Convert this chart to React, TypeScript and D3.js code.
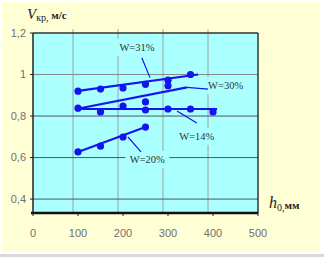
import React from 'react'
import * as d3 from 'd3'

// h0, mm
const xTicks = [0, 100, 200, 300, 400, 500]
const yTicks = [0.4, 0.6, 0.8, 1, 1.2]
const yTickLabels = ['0,4', '0,6', '0,8', '1', '1,2']

// measured points per moisture W
const w31 = [[100, 0.92], [150, 0.93], [200, 0.935], [250, 0.953], [300, 0.973], [350, 1.0]]
const w30 = [[100, 0.838], [200, 0.848], [250, 0.868], [300, 0.946]]
const w14 = [[150, 0.82], [250, 0.829], [300, 0.834], [350, 0.834], [400, 0.82]]
const w20 = [[100, 0.627], [150, 0.655], [200, 0.699], [250, 0.747]]

// trend lines (start, end)
const w31Trend = [[96, 0.92], [367, 1.0]]
const w30Trend = [[96, 0.834], [342, 0.938]]
const w14Trend = [[96, 0.834], [409, 0.834]]
const w20Trend = [[100, 0.627], [250, 0.747]]

const labels = [
  { text: 'W=31%', x: 231, y: 1.133, from: [242, 1.08], to: [260, 0.985] },
  { text: 'W=30%', x: 428, y: 0.949, from: [342, 0.938], to: [389, 0.93] },
  { text: 'W=14%', x: 364, y: 0.704, from: [320, 0.824], to: [364, 0.766] },
  { text: 'W=20%', x: 254, y: 0.593, from: [211, 0.699], to: [240, 0.627] }
]

const W = 324
const H = 257
const blue = '#1414f0'

export default function App() {
  const x = d3.scaleLinear().domain([0, 500]).range([33, 258])
  const y = d3.scaleLinear().domain([0.333, 1.2]).range([213, 33])
  const line = d3.line<number[]>().x(d => x(d[0])).y(d => y(d[1]))
  const series = [w31, w30, w14, w20]
  const trends = [w31Trend, w30Trend, w14Trend, w20Trend]

  return (
    <svg width={W} height={H} style={{ position: 'absolute', left: 0, top: 0 }}>
      <rect x={0} y={0} width={W} height={H} fill="#fff" />
      <rect x={0} y={254} width={W} height={3} fill="#d8d8d8" />
      <rect x={2} y={2} width={318} height={250} fill="#ffffd6" />
      <rect x={x(0)} y={y(1.2)} width={x(500) - x(0)} height={y(0.333) - y(1.2)} fill="#aaffff" />

      {/* vertical grid (drawn slightly left of ticks, as in the source) */}
      {xTicks.slice(1, 5).map(t => (
        <line key={'vx' + t} x1={x(t) - 5} x2={x(t) - 5} y1={y(1.2) - 4} y2={y(0.333)} stroke="#a0a0a0" strokeWidth={1} />
      ))}
      {/* horizontal grid */}
      {yTicks.slice(0, 4).map(t => (
        <line key={'hy' + t} x1={x(0)} x2={x(500)} y1={y(t)} y2={y(t)} stroke={t === 1 ? '#8a8a8a' : '#555'} strokeWidth={1} />
      ))}
      <line x1={x(0)} x2={x(500)} y1={y(1.2)} y2={y(1.2)} stroke="#333" strokeWidth={1.5} />
      <line x1={x(500)} x2={x(500)} y1={y(1.2)} y2={y(0.333)} stroke="#333" strokeWidth={1.5} />
      <line x1={x(0)} x2={x(0)} y1={y(1.2)} y2={y(0.333)} stroke="#222" strokeWidth={1.5} />
      <line x1={x(0) - 2} x2={x(500)} y1={y(0.333)} y2={y(0.333)} stroke="#111" strokeWidth={2.5} />

      {yTicks.map(t => (
        <line key={'yt' + t} x1={x(0) - 3} x2={x(0)} y1={y(t)} y2={y(t)} stroke="#222" />
      ))}
      {xTicks.map(t => (
        <line key={'xt' + t} x1={x(t)} x2={x(t)} y1={y(0.333)} y2={y(0.333) + 3} stroke="#222" />
      ))}

      <g fontFamily="Liberation Sans, Arial, sans-serif" fontSize={11} fill="#707070">
        {yTicks.map((t, i) => (
          <text key={'yl' + t} x={26} y={y(t)} dy="0.35em" textAnchor="end">{yTickLabels[i]}</text>
        ))}
        {xTicks.map(t => (
          <text key={'xl' + t} x={x(t)} y={233} dy="0.35em" textAnchor="middle">{t}</text>
        ))}
      </g>

      {/* label backgrounds hide grid lines */}
      {labels.map(l => (
        <rect key={'bg' + l.text} x={x(l.x) - 22} y={y(l.y) - 8} width={44} height={17} fill="#aaffff" />
      ))}

      {trends.map((d, i) => (
        <path key={'tr' + i} d={line(d) || ''} fill="none" stroke={blue} strokeWidth={2.2} />
      ))}
      {labels.map(l => (
        <line key={'ld' + l.text} x1={x(l.from[0])} y1={y(l.from[1])} x2={x(l.to[0])} y2={y(l.to[1])} stroke={blue} strokeWidth={1.2} />
      ))}
      {series.map((s, i) => (
        <g key={'s' + i}>
          {s.map((d, j) => (
            <circle key={j} cx={x(d[0])} cy={y(d[1])} r={3.6} fill={blue} />
          ))}
        </g>
      ))}

      <g fontFamily="Liberation Serif, Times New Roman, serif" fontSize={10.5} fill="#333">
        {labels.map(l => (
          <text key={'lt' + l.text} x={x(l.x)} y={y(l.y)} dy="0.35em" textAnchor="middle">{l.text}</text>
        ))}
      </g>

      <g fontFamily="Liberation Serif, Times New Roman, serif" fill="#222">
        <text x={27} y={19}>
          <tspan fontStyle="italic" fontSize={15}>V</tspan>
          <tspan fontSize={10} dy={2}>кр,</tspan>
          <tspan fontSize={11} fontWeight="bold" dy={-2}> м/с</tspan>
        </text>
        <text x={269} y={208}>
          <tspan fontStyle="italic" fontSize={16}>h</tspan>
          <tspan fontSize={10} dy={3}>0,</tspan>
          <tspan fontSize={11} fontWeight="bold" dy={-2}>мм</tspan>
        </text>
      </g>
    </svg>
  )
}
